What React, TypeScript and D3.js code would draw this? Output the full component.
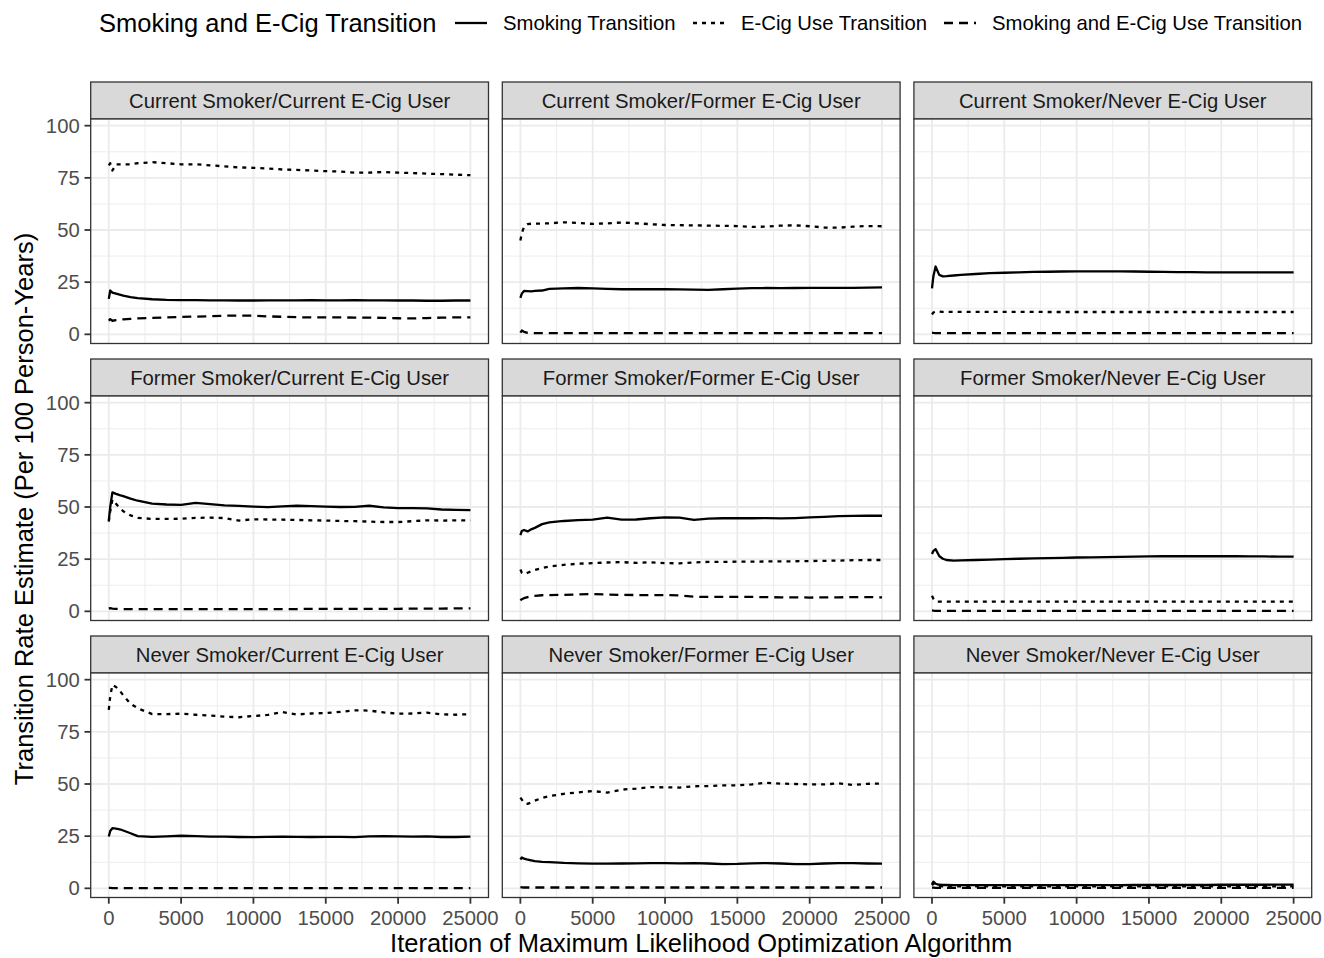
import React from 'react'
import * as d3 from 'd3'

// iteration at which each estimate was read
const iterations = [0, 100, 250, 500, 750, 1000, 1500, 2000, 3000, 4000, 5000, 6000, 7000, 8000, 9000, 10000, 11000, 12000, 13000, 14000, 15000, 16000, 17000, 18000, 19000, 20000, 21000, 22000, 23000, 24000, 25000]

const panelTitles = [
  'Current Smoker/Current E-Cig User',
  'Current Smoker/Former E-Cig User',
  'Current Smoker/Never E-Cig User',
  'Former Smoker/Current E-Cig User',
  'Former Smoker/Former E-Cig User',
  'Former Smoker/Never E-Cig User',
  'Never Smoker/Current E-Cig User',
  'Never Smoker/Former E-Cig User',
  'Never Smoker/Never E-Cig User',
]

const seriesLabels = ['Smoking Transition', 'E-Cig Use Transition', 'Smoking and E-Cig Use Transition']

const xTicks = [0, 5000, 10000, 15000, 20000, 25000]
const yTicks = [0, 25, 50, 75, 100]

// Current Smoker / Current E-Cig User
const smokeCurCur = [17, 21, 20, 19.5, 19, 18.5, 17.8, 17.3, 16.8, 16.5, 16.4, 16.4, 16.3, 16.3, 16.2, 16.2, 16.3, 16.3, 16.3, 16.4, 16.3, 16.3, 16.4, 16.3, 16.3, 16.2, 16.2, 16.1, 16.1, 16.2, 16.2]
const ecigCurCur = [81, 82, 78.5, 81.5, 81.5, 81.5, 81.5, 82, 82.5, 82, 81.5, 81.5, 81, 80.5, 80, 79.8, 79.5, 79, 78.8, 78.5, 78.2, 78, 77.5, 77.5, 77.8, 77.5, 77.3, 77, 76.8, 76.5, 76.3]
const bothCurCur = [6.5, 7.3, 6.5, 6.8, 7, 7.2, 7.4, 7.6, 7.9, 8.1, 8.3, 8.5, 8.7, 8.9, 9, 8.9, 8.6, 8.4, 8.2, 8.1, 8.1, 8.1, 8, 8, 7.9, 7.7, 7.6, 7.8, 8, 8.1, 8.1]

// Current Smoker / Former E-Cig User
const smokeCurFor = [17.5, 19.5, 20.8, 20.7, 20.6, 20.8, 21, 21.8, 22, 22.2, 22, 21.8, 21.6, 21.6, 21.7, 21.6, 21.5, 21.4, 21.3, 21.6, 21.9, 22.1, 22.2, 22.1, 22.2, 22.3, 22.3, 22.3, 22.3, 22.4, 22.5]
const ecigCurFor = [45, 48.5, 51.5, 52.8, 53, 53, 53.1, 53.2, 53.7, 53.4, 52.9, 53.2, 53.6, 53.2, 52.8, 52.4, 52.3, 52.2, 52.1, 52, 51.9, 51.5, 51.6, 52.1, 52.2, 51.8, 51.2, 51.1, 51.6, 51.9, 51.8]
const bothCurFor = [0.8, 1.8, 1.2, 0.7, 0.6, 0.6, 0.6, 0.6, 0.6, 0.6, 0.6, 0.6, 0.6, 0.6, 0.6, 0.6, 0.6, 0.6, 0.6, 0.6, 0.6, 0.6, 0.6, 0.6, 0.6, 0.6, 0.6, 0.6, 0.6, 0.6, 0.6]

// Current Smoker / Never E-Cig User
const smokeCurNev = [22, 28, 32.5, 28.5, 27.8, 27.9, 28.2, 28.5, 28.9, 29.3, 29.5, 29.7, 29.9, 30, 30.1, 30.2, 30.2, 30.2, 30.2, 30.1, 30, 29.9, 29.8, 29.8, 29.7, 29.7, 29.7, 29.7, 29.7, 29.7, 29.7]
const ecigCurNev = [9.5, 10.5, 11, 10.9, 10.8, 10.8, 10.8, 10.8, 10.8, 10.8, 10.8, 10.8, 10.8, 10.7, 10.7, 10.7, 10.7, 10.7, 10.7, 10.7, 10.7, 10.7, 10.7, 10.7, 10.7, 10.7, 10.7, 10.7, 10.7, 10.7, 10.7]
const bothCurNev = [0.8, 0.7, 0.6, 0.6, 0.6, 0.6, 0.6, 0.6, 0.6, 0.6, 0.6, 0.6, 0.6, 0.6, 0.6, 0.6, 0.6, 0.6, 0.6, 0.6, 0.6, 0.6, 0.6, 0.6, 0.6, 0.6, 0.6, 0.6, 0.6, 0.6, 0.6]

// Former Smoker / Current E-Cig User
const smokeForCur = [43.5, 50, 57, 56.3, 55.7, 55.2, 54, 53, 51.6, 51.2, 51, 52, 51.4, 50.8, 50.5, 50.2, 49.9, 50.3, 50.6, 50.4, 50.2, 50, 50.1, 50.6, 49.8, 49.5, 49.5, 49.3, 48.8, 48.6, 48.5]
const ecigForCur = [43, 48, 53.5, 51.5, 49.5, 48, 46, 44.8, 44.3, 44.3, 44.4, 44.8, 44.9, 44.7, 43.5, 44.1, 44, 43.9, 43.8, 43.6, 43.5, 43.3, 43.2, 43, 42.8, 42.8, 43.2, 43.6, 43.5, 43.6, 43.6]
const bothForCur = [1.3, 1.5, 1.3, 1.2, 1.1, 1.1, 1.1, 1.1, 1.1, 1.1, 1.1, 1.1, 1.1, 1.1, 1.1, 1.1, 1.1, 1.1, 1.1, 1.2, 1.2, 1.2, 1.2, 1.2, 1.2, 1.2, 1.3, 1.3, 1.3, 1.4, 1.4]

// Former Smoker / Former E-Cig User
const smokeForFor = [36.5, 38.5, 39, 38.3, 39.3, 40, 41.8, 42.6, 43.3, 43.7, 43.9, 44.9, 43.9, 44, 44.6, 45, 44.9, 43.8, 44.4, 44.6, 44.6, 44.6, 44.7, 44.5, 44.7, 45, 45.3, 45.6, 45.7, 45.8, 45.8]
const ecigForFor = [20, 18.5, 17.8, 18.5, 19.2, 19.8, 20.7, 21.5, 22.3, 22.8, 23.1, 23.4, 23.6, 23.2, 23.5, 23.1, 23, 23.4, 23.7, 23.7, 23.8, 23.8, 23.9, 23.9, 24, 24.1, 24.2, 24.3, 24.5, 24.6, 24.6]
const bothForFor = [5.2, 5.8, 6.3, 6.8, 7.2, 7.4, 7.7, 7.8, 7.9, 8.1, 8.3, 8, 7.9, 7.8, 7.8, 7.8, 7.6, 7, 6.9, 6.9, 6.9, 6.9, 6.8, 6.7, 6.7, 6.6, 6.7, 6.7, 6.8, 6.8, 6.7]

// Former Smoker / Never E-Cig User
const smokeForNev = [27.5, 29, 29.8, 26.5, 25.2, 24.6, 24.3, 24.4, 24.6, 24.8, 25, 25.2, 25.4, 25.5, 25.6, 25.8, 25.9, 26, 26.1, 26.2, 26.3, 26.4, 26.4, 26.4, 26.4, 26.4, 26.4, 26.3, 26.3, 26.2, 26.2]
const ecigForNev = [7.5, 6, 4.8, 4.6, 4.6, 4.6, 4.6, 4.6, 4.6, 4.6, 4.6, 4.6, 4.6, 4.6, 4.6, 4.6, 4.6, 4.6, 4.6, 4.6, 4.6, 4.6, 4.6, 4.6, 4.6, 4.6, 4.6, 4.6, 4.6, 4.6, 4.6]
const bothForNev = [0.4, 0.3, 0.2, 0.2, 0.2, 0.2, 0.2, 0.2, 0.2, 0.2, 0.2, 0.2, 0.2, 0.2, 0.2, 0.2, 0.2, 0.2, 0.2, 0.2, 0.2, 0.2, 0.2, 0.2, 0.2, 0.2, 0.2, 0.2, 0.2, 0.2, 0.2]

// Never Smoker / Current E-Cig User
const smokeNevCur = [24.8, 27.5, 28.8, 28.6, 28.3, 27.7, 26.4, 25, 24.7, 24.9, 25.2, 25, 24.8, 24.8, 24.6, 24.5, 24.7, 24.8, 24.7, 24.6, 24.7, 24.7, 24.5, 24.9, 25, 24.9, 24.8, 24.9, 24.6, 24.6, 24.8]
const ecigNevCur = [85.5, 92, 97.5, 96.5, 94.8, 92.5, 88.5, 86.3, 83.5, 83.5, 83.7, 83.2, 82.8, 82.3, 82, 82.6, 83.1, 84.5, 83.3, 83.8, 84, 84.6, 85.3, 85.2, 84.3, 83.7, 83.8, 84.2, 83.4, 83.2, 83.5]
const bothNevCur = [0.2, 0.2, 0.1, 0.1, 0.1, 0.1, 0.1, 0.1, 0.1, 0.1, 0.1, 0.1, 0.1, 0.1, 0.1, 0.1, 0.1, 0.1, 0.1, 0.1, 0.1, 0.1, 0.1, 0.1, 0.1, 0.1, 0.1, 0.1, 0.1, 0.1, 0.1]

// Never Smoker / Former E-Cig User
const smokeNevFor = [13.8, 14.8, 14.2, 13.8, 13.4, 13, 12.7, 12.6, 12.2, 12, 11.8, 11.8, 11.9, 12, 12.1, 12.1, 12, 12.1, 11.9, 11.6, 11.7, 12, 12.1, 11.9, 11.6, 11.6, 11.9, 12.1, 12.1, 11.9, 11.8]
const ecigNevFor = [43.5, 42.5, 41, 40.5, 41.2, 42, 43.3, 44.2, 45.3, 46, 46.6, 45.9, 47.3, 47.8, 48.5, 48.4, 48.3, 48.9, 49, 49.3, 49.4, 49.8, 50.6, 50.2, 50, 49.8, 49.8, 50.3, 49.5, 50.1, 50.2]
const bothNevFor = [0.6, 0.5, 0.4, 0.4, 0.4, 0.4, 0.4, 0.4, 0.4, 0.4, 0.4, 0.4, 0.4, 0.4, 0.4, 0.4, 0.4, 0.4, 0.4, 0.4, 0.4, 0.4, 0.4, 0.4, 0.4, 0.4, 0.4, 0.4, 0.4, 0.4, 0.4]

// Never Smoker / Never E-Cig User
const smokeNevNev = [2, 3.2, 2.2, 1.7, 1.6, 1.6, 1.5, 1.5, 1.5, 1.5, 1.5, 1.5, 1.5, 1.5, 1.5, 1.5, 1.5, 1.5, 1.5, 1.6, 1.6, 1.6, 1.6, 1.6, 1.6, 1.7, 1.7, 1.7, 1.7, 1.8, 1.8]
const ecigNevNev = [1.5, 2.4, 1.4, 1, 0.9, 0.9, 0.9, 0.9, 0.9, 0.9, 0.9, 0.9, 0.9, 0.9, 0.9, 0.9, 0.9, 0.9, 0.9, 0.9, 0.9, 0.9, 0.9, 0.9, 0.9, 0.9, 0.9, 0.9, 0.9, 0.9, 0.9]
const bothNevNev = [0.3, 0.3, 0.2, 0.2, 0.2, 0.2, 0.2, 0.2, 0.2, 0.2, 0.2, 0.2, 0.2, 0.2, 0.2, 0.2, 0.2, 0.2, 0.2, 0.2, 0.2, 0.2, 0.2, 0.2, 0.2, 0.2, 0.2, 0.2, 0.2, 0.2, 0.2]

const panelSeries = [
  [smokeCurCur, ecigCurCur, bothCurCur],
  [smokeCurFor, ecigCurFor, bothCurFor],
  [smokeCurNev, ecigCurNev, bothCurNev],
  [smokeForCur, ecigForCur, bothForCur],
  [smokeForFor, ecigForFor, bothForFor],
  [smokeForNev, ecigForNev, bothForNev],
  [smokeNevCur, ecigNevCur, bothNevCur],
  [smokeNevFor, ecigNevFor, bothNevFor],
  [smokeNevNev, ecigNevNev, bothNevNev],
]

//Dimensions
const width = 1324
const height = 958
const left0 = 90.7
const panelW = 397.8
const gapX = 13.8
const stripTop0 = 82
const stripH = 37
const panelH = 224.5
const rowPitch = 277
const lineW = 2.3
const dashes = [null, '4,5', '9,6']
const font = 'Liberation Sans, Arial, sans-serif'
const smallFont = 20.3
const bigFont = 25.5

const x = d3.scaleLinear().domain([-1250, 26250]).range([0, panelW])
const y = d3.scaleLinear().domain([-4.4, 103.2]).range([panelH, 0])
const line = d3
  .line<number>()
  .x((d, i) => x(iterations[i]))
  .y((d) => y(d))

const xMinor = [2500, 7500, 12500, 17500, 22500]
const yMinor = [12.5, 37.5, 62.5, 87.5]

function Panel({ index }: { index: number }) {
  const col = index % 3
  const row = Math.floor(index / 3)
  const px = left0 + col * (panelW + gapX)
  const sy = stripTop0 + row * rowPitch
  const py = sy + stripH
  return (
    <g>
      {/* strip */}
      <rect x={px} y={sy} width={panelW} height={stripH} fill="#D9D9D9" stroke="#333333" strokeWidth={1.3} />
      <text x={px + panelW / 2} y={sy + 25.7} textAnchor="middle" fontSize={smallFont} fill="#1A1A1A">
        {panelTitles[index]}
      </text>
      <g transform={`translate(${px},${py})`}>
        <rect width={panelW} height={panelH} fill="#FFFFFF" />
        {xMinor.map((t) => (
          <line key={'xm' + t} x1={x(t)} x2={x(t)} y1={0} y2={panelH} stroke="#EBEBEB" strokeWidth={0.9} />
        ))}
        {yMinor.map((t) => (
          <line key={'ym' + t} x1={0} x2={panelW} y1={y(t)} y2={y(t)} stroke="#EBEBEB" strokeWidth={0.9} />
        ))}
        {xTicks.map((t) => (
          <line key={'xM' + t} x1={x(t)} x2={x(t)} y1={0} y2={panelH} stroke="#EBEBEB" strokeWidth={1.8} />
        ))}
        {yTicks.map((t) => (
          <line key={'yM' + t} x1={0} x2={panelW} y1={y(t)} y2={y(t)} stroke="#EBEBEB" strokeWidth={1.8} />
        ))}
        {panelSeries[index].map((vals, s) => (
          <path
            key={s}
            d={line(vals) || ''}
            fill="none"
            stroke="#000000"
            strokeWidth={lineW}
            strokeLinejoin="round"
            strokeDasharray={dashes[s] || undefined}
          />
        ))}
        <rect width={panelW} height={panelH} fill="none" stroke="#333333" strokeWidth={1.3} />
        {/* y axis on first column */}
        {col === 0 &&
          yTicks.map((t) => (
            <g key={'yt' + t} transform={`translate(0,${y(t)})`}>
              <line x1={-6.2} x2={0} stroke="#333333" strokeWidth={1.8} />
              <text x={-11} dy="0.35em" textAnchor="end" fontSize={smallFont} fill="#4D4D4D">
                {t}
              </text>
            </g>
          ))}
        {/* x axis on last row */}
        {row === 2 &&
          xTicks.map((t) => (
            <g key={'xt' + t} transform={`translate(${x(t)},${panelH})`}>
              <line y1={0} y2={6.2} stroke="#333333" strokeWidth={1.8} />
              <text y={27} textAnchor="middle" fontSize={smallFont} fill="#4D4D4D">
                {t}
              </text>
            </g>
          ))}
      </g>
    </g>
  )
}

// legend keys and label positions
const legendKeyX = [455, 693, 944]
const keyLen = 32

export default function App() {
  const plotRight = left0 + 3 * panelW + 2 * gapX
  return (
    <svg
      width={width}
      height={height}
      style={{ position: 'absolute', left: 0, top: 0, background: '#FFFFFF' }}
      fontFamily={font}
    >
      <rect width={width} height={height} fill="#FFFFFF" />
      {/* legend */}
      <text x={99} y={32} fontSize={bigFont} fill="#000000">
        Smoking and E-Cig Transition
      </text>
      {seriesLabels.map((lab, i) => (
        <g key={lab}>
          <line
            x1={legendKeyX[i]}
            x2={legendKeyX[i] + keyLen}
            y1={23}
            y2={23}
            stroke="#000000"
            strokeWidth={lineW}
            strokeDasharray={dashes[i] || undefined}
          />
          <text x={legendKeyX[i] + keyLen + 16} y={30} fontSize={smallFont} fill="#000000">
            {lab}
          </text>
        </g>
      ))}
      {panelTitles.map((t, i) => (
        <Panel key={t} index={i} />
      ))}
      {/* axis titles */}
      <text x={(left0 + plotRight) / 2} y={952} textAnchor="middle" fontSize={bigFont} fill="#000000">
        Iteration of Maximum Likelihood Optimization Algorithm
      </text>
      <text
        x={33}
        y={509}
        transform="rotate(-90,33,509)"
        textAnchor="middle"
        fontSize={bigFont}
        fill="#000000"
      >
        Transition Rate Estimate (Per 100 Person-Years)
      </text>
    </svg>
  )
}
